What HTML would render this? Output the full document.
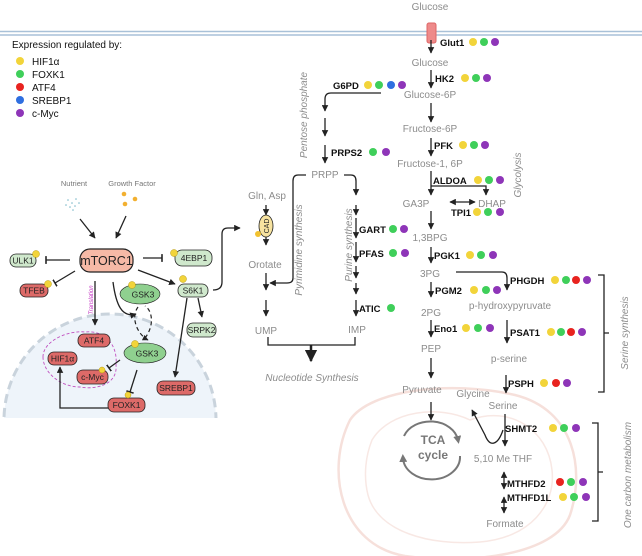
<!DOCTYPE html>
<html><head><meta charset="utf-8"><style>
html,body{margin:0;padding:0;background:#fff}
svg{display:block}
text{font-family:"Liberation Sans",sans-serif}
.m{fill:#8c8c8c;font-size:10px;text-anchor:middle}
.e{fill:#111;font-size:9.5px;font-weight:bold}
.l{fill:#111;font-size:10px}
.v{fill:#8c8c8c;font-size:10px;font-style:italic}
.a{stroke:#222;stroke-width:1.3;fill:none;marker-end:url(#ar)}
.n{stroke:#222;stroke-width:1.3;fill:none}
.bx{font-size:8.5px;text-anchor:middle;fill:#222}
</style></head><body>
<svg width="642" height="556" viewBox="0 0 642 556" xmlns="http://www.w3.org/2000/svg">
<defs>
<marker id="ar" viewBox="0 0 10 10" refX="9" refY="5" markerWidth="5" markerHeight="5" orient="auto"><path d="M0,0L10,5L0,10z" fill="#222"/></marker>
<marker id="ar2" viewBox="0 0 10 10" refX="1" refY="5" markerWidth="5" markerHeight="5" orient="auto"><path d="M10,0L0,5L10,10z" fill="#222"/></marker>
<marker id="tb" viewBox="0 0 10 10" refX="5" refY="5" markerWidth="6" markerHeight="6" orient="auto"><path d="M5,0L5,10" stroke="#222" stroke-width="2"/></marker>
<marker id="ga" viewBox="0 0 10 10" refX="5" refY="5" markerWidth="4" markerHeight="4" orient="auto"><path d="M0,0L10,5L0,10z" fill="#777"/></marker>
<clipPath id="nc"><rect x="0" y="300" width="260" height="118"/></clipPath>
</defs>
<!-- membrane -->
<line x1="0" y1="31.5" x2="642" y2="31.5" stroke="#a9c1d8" stroke-width="1.5"/>
<line x1="0" y1="35" x2="642" y2="35" stroke="#a9c1d8" stroke-width="1.5"/>
<rect x="427" y="23" width="9" height="20" rx="2" fill="#ee8a8a" stroke="#d66"/>
<!-- mitochondrion -->
<path d="M350,420 C370,390 450,380 515,395 C575,410 585,470 570,515 C555,555 470,565 405,556 C340,545 325,470 350,420 Z" fill="none" stroke="#f6e0db" stroke-width="2.5"/>
<path d="M372,440 C390,410 440,405 470,420 C510,405 548,430 552,470 C556,505 530,538 480,542 C430,546 378,532 368,495 C363,475 366,455 372,440Z" fill="none" stroke="#f8e8e4" stroke-width="1.5"/>
<!-- legend -->
<text x="12" y="48" class="l">Expression regulated by:</text>
<circle cx="20" cy="61" r="4" fill="#f2d43a"/><text x="32" y="65" class="l">HIF1α</text>
<circle cx="20" cy="74" r="4" fill="#3fcf5a"/><text x="32" y="78" class="l">FOXK1</text>
<circle cx="20" cy="87" r="4" fill="#e8231f"/><text x="32" y="91" class="l">ATF4</text>
<circle cx="20" cy="100" r="4" fill="#2f6fe0"/><text x="32" y="104" class="l">SREBP1</text>
<circle cx="20" cy="113" r="4" fill="#8e35b8"/><text x="32" y="117" class="l">c-Myc</text>

<!-- glycolysis -->
<text x="430" y="10" class="m">Glucose</text>
<path d="M431,40V53" class="a"/>
<text x="440" y="46" class="e">Glut1</text>
<circle cx="473" cy="42" r="4" fill="#f2d43a"/><circle cx="484" cy="42" r="4" fill="#3fcf5a"/><circle cx="495" cy="42" r="4" fill="#8e35b8"/>
<text x="430" y="66" class="m">Glucose</text>
<path d="M431,70V88" class="a"/>
<text x="435" y="82" class="e">HK2</text>
<circle cx="465" cy="78" r="4" fill="#f2d43a"/><circle cx="476" cy="78" r="4" fill="#3fcf5a"/><circle cx="487" cy="78" r="4" fill="#8e35b8"/>
<text x="430" y="98" class="m">Glucose-6P</text>
<path d="M431,103V122" class="a"/>
<text x="430" y="132" class="m">Fructose-6P</text>
<path d="M431,138V156" class="a"/>
<text x="434" y="149" class="e">PFK</text>
<circle cx="463" cy="145" r="4" fill="#f2d43a"/><circle cx="474" cy="145" r="4" fill="#3fcf5a"/><circle cx="485" cy="145" r="4" fill="#8e35b8"/>
<text x="430" y="167" class="m">Fructose-1, 6P</text>
<path d="M431,171V195" class="a"/>
<path d="M431,186H486V195" class="a"/>
<text x="433" y="184" class="e">ALDOA</text>
<circle cx="478" cy="180" r="4" fill="#f2d43a"/><circle cx="489" cy="180" r="4" fill="#3fcf5a"/><circle cx="500" cy="180" r="4" fill="#8e35b8"/>
<text x="416" y="207" class="m">GA3P</text>
<path d="M450,202H475" class="n" marker-end="url(#ar)" marker-start="url(#ar2)"/>
<text x="492" y="207" class="m">DHAP</text>
<text x="451" y="216" class="e">TPI1</text>
<circle cx="477" cy="212" r="4" fill="#f2d43a"/><circle cx="488" cy="212" r="4" fill="#3fcf5a"/><circle cx="500" cy="212" r="4" fill="#8e35b8"/>
<text transform="translate(521,175) rotate(-90)" class="v" text-anchor="middle">Glycolysis</text>
<path d="M431,211V229" class="a"/>
<text x="430" y="241" class="m">1,3BPG</text>
<path d="M431,247V263" class="a"/>
<text x="434" y="259" class="e">PGK1</text>
<circle cx="470" cy="255" r="4" fill="#f2d43a"/><circle cx="481" cy="255" r="4" fill="#3fcf5a"/><circle cx="493" cy="255" r="4" fill="#8e35b8"/>
<text x="430" y="277" class="m">3PG</text>
<path d="M456,272H502Q507,272 507,278V290" class="a"/>
<text x="510" y="284" class="e">PHGDH</text>
<circle cx="555" cy="280" r="4" fill="#f2d43a"/><circle cx="566" cy="280" r="4" fill="#3fcf5a"/><circle cx="576" cy="280" r="4" fill="#e8231f"/><circle cx="587" cy="280" r="4" fill="#8e35b8"/>
<path d="M431,282V297" class="a"/>
<text x="435" y="294" class="e">PGM2</text>
<circle cx="474" cy="290" r="4" fill="#f2d43a"/><circle cx="486" cy="290" r="4" fill="#3fcf5a"/><circle cx="497" cy="290" r="4" fill="#8e35b8"/>
<text x="510" y="309" class="m">p-hydroxypyruvate</text>
<text x="431" y="316" class="m">2PG</text>
<path d="M431,320V337" class="a"/>
<text x="434" y="332" class="e">Eno1</text>
<circle cx="466" cy="328" r="4" fill="#f2d43a"/><circle cx="478" cy="328" r="4" fill="#3fcf5a"/><circle cx="490" cy="328" r="4" fill="#8e35b8"/>
<path d="M507,320V343" class="a"/>
<text x="510" y="336" class="e">PSAT1</text>
<circle cx="551" cy="332" r="4" fill="#f2d43a"/><circle cx="561" cy="332" r="4" fill="#3fcf5a"/><circle cx="571" cy="332" r="4" fill="#e8231f"/><circle cx="582" cy="332" r="4" fill="#8e35b8"/>
<text x="431" y="352" class="m">PEP</text>
<path d="M431,358V378" class="a"/>
<text x="509" y="362" class="m">p-serine</text>
<path d="M506,375V393" class="a"/>
<text x="508" y="387" class="e">PSPH</text>
<circle cx="544" cy="383" r="4" fill="#f2d43a"/><circle cx="556" cy="383" r="4" fill="#e8231f"/><circle cx="567" cy="383" r="4" fill="#8e35b8"/>
<path d="M598,275H604V392H598M604,333H609" class="n"/>
<text transform="translate(628,333) rotate(-90)" class="v" text-anchor="middle">Serine  synthesis</text>
<text x="422" y="393" class="m">Pyruvate</text>
<text x="473" y="397" class="m">Glycine</text>
<text x="503" y="409" class="m">Serine</text>
<path d="M431,402V420" class="a"/>
<path d="M505,414V446" class="a"/>
<path d="M503,430C498,445 490,448 485,435L472,410" class="a"/>
<text x="505" y="432" class="e">SHMT2</text>
<circle cx="553" cy="428" r="4" fill="#f2d43a"/><circle cx="564" cy="428" r="4" fill="#3fcf5a"/><circle cx="576" cy="428" r="4" fill="#8e35b8"/>
<path d="M404,436A28,22 0 0 1 458,440" fill="none" stroke="#777" stroke-width="2" marker-end="url(#ga)"/>
<path d="M460,456A28,22 0 0 1 403,458" fill="none" stroke="#777" stroke-width="2" marker-end="url(#ga)"/>
<text x="433" y="444" fill="#777" font-size="12" font-weight="bold" text-anchor="middle">TCA</text>
<text x="433" y="459" fill="#777" font-size="12" font-weight="bold" text-anchor="middle">cycle</text>
<text x="503" y="462" class="m">5,10 Me THF</text>
<path d="M504,472V489" class="n" marker-end="url(#ar)" marker-start="url(#ar2)"/>
<text x="507" y="487" class="e">MTHFD2</text>
<circle cx="560" cy="482" r="4" fill="#e8231f"/><circle cx="571" cy="482" r="4" fill="#3fcf5a"/><circle cx="583" cy="482" r="4" fill="#8e35b8"/>
<path d="M504,497V513" class="n" marker-end="url(#ar)" marker-start="url(#ar2)"/>
<text x="507" y="501" class="e">MTHFD1L</text>
<circle cx="563" cy="497" r="4" fill="#f2d43a"/><circle cx="574" cy="497" r="4" fill="#3fcf5a"/><circle cx="586" cy="497" r="4" fill="#8e35b8"/>
<text x="505" y="527" class="m">Formate</text>
<path d="M592,423H598V521H592M598,472H603" class="n"/>
<text transform="translate(631,475) rotate(-90)" class="v" text-anchor="middle">One carbon metabolism</text>

<!-- pentose -->
<text x="333" y="89" class="e">G6PD</text>
<circle cx="368" cy="85" r="4" fill="#f2d43a"/><circle cx="379" cy="85" r="4" fill="#3fcf5a"/><circle cx="391" cy="85" r="4" fill="#2f6fe0"/><circle cx="402" cy="85" r="4" fill="#8e35b8"/>
<path d="M381,93H331Q325,93 325,99V111" class="a"/>
<path d="M325,118V136" class="a"/>
<path d="M325,145V163" class="a"/>
<text x="331" y="156" class="e">PRPS2</text>
<circle cx="373" cy="152" r="4" fill="#3fcf5a"/><circle cx="386" cy="152" r="4" fill="#8e35b8"/>
<text transform="translate(307,115) rotate(-90)" class="v" text-anchor="middle">Pentose phosphate</text>
<text x="325" y="178" class="m">PRPP</text>
<path d="M306,175H298Q293,175 293,181V278Q293,283 287,283H270" class="a"/>
<path d="M344,175H351Q356,175 356,181V195" class="a"/>
<text x="267" y="199" class="m">Gln, Asp</text>
<path d="M266,205V215" class="a"/>
<path d="M266,220V230" class="a"/>
<path d="M266,235V245" class="a"/>
<ellipse cx="266" cy="226" rx="7" ry="11" fill="#f7e3a0" stroke="#222" stroke-width="0.8"/>
<text transform="translate(269,226) rotate(-90)" font-size="7" text-anchor="middle" fill="#222">CAD</text>
<circle cx="258" cy="234" r="3" fill="#f2c230"/>
<text x="265" y="268" class="m">Orotate</text>
<path d="M266,273V290" class="a"/>
<path d="M266,300V316" class="a"/>
<text x="266" y="334" class="m">UMP</text>
<text transform="translate(302,250) rotate(-90)" class="v" text-anchor="middle" font-size="11">Pyrimidine synthesis</text>
<path d="M356,205V215" class="a"/>
<path d="M356,218V238" class="a"/>
<text x="359" y="233" class="e">GART</text>
<circle cx="393" cy="229" r="4" fill="#3fcf5a"/><circle cx="404" cy="229" r="4" fill="#8e35b8"/>
<path d="M356,242V262" class="a"/>
<text x="359" y="257" class="e">PFAS</text>
<circle cx="393" cy="253" r="4" fill="#3fcf5a"/><circle cx="405" cy="253" r="4" fill="#8e35b8"/>
<path d="M356,266V278" class="a"/>
<path d="M356,283V294" class="a"/>
<path d="M356,300V316" class="a"/>
<text x="359" y="312" class="e">ATIC</text>
<circle cx="391" cy="308" r="4" fill="#3fcf5a"/>
<text x="357" y="333" class="m">IMP</text>
<text transform="translate(352,245) rotate(-90)" class="v" text-anchor="middle" font-size="11">Purine synthesis</text>
<path d="M268,337V345H355V337" class="n"/>
<path d="M311,345V361" stroke="#222" stroke-width="2.5" marker-end="url(#ar)"/>
<text x="312" y="381" class="v" text-anchor="middle">Nucleotide Synthesis</text>

<!-- nucleus -->
<g clip-path="url(#nc)">
<circle cx="110" cy="420" r="106" fill="#eef4fa" stroke="#c9d3dc" stroke-width="3" stroke-dasharray="9,5"/>
</g>
<!-- mTOR area -->
<text x="74" y="186" fill="#777" font-size="7.5" text-anchor="middle">Nutrient</text>
<text x="132" y="186" fill="#777" font-size="7.5" text-anchor="middle">Growth Factor</text>
<g fill="#7ab8c8"><circle cx="68" cy="200" r=".8"/><circle cx="72" cy="203" r=".8"/><circle cx="76" cy="199" r=".8"/><circle cx="70" cy="207" r=".8"/><circle cx="75" cy="206" r=".8"/><circle cx="79" cy="203" r=".8"/><circle cx="73" cy="210" r=".8"/><circle cx="66" cy="205" r=".8"/></g>
<circle cx="124" cy="194" r="2.3" fill="#f2b030"/><circle cx="135" cy="199" r="2.3" fill="#f2b030"/><circle cx="125" cy="204" r="2.3" fill="#f2b030"/>
<path d="M80,219L95,238" class="a"/>
<path d="M126,216L116,238" class="a"/>
<rect x="80" y="249" width="53" height="23" rx="10" fill="#f6b9a6" stroke="#222" stroke-width="1.2"/>
<text x="106.5" y="265" font-size="12.5" text-anchor="middle" fill="#222">mTORC1</text>
<path d="M70,260H46" class="n" marker-end="url(#tb)"/>
<rect x="10" y="254" width="26" height="13" rx="6" fill="#cfe8cc" stroke="#222" stroke-width=".8"/><text x="23" y="263.5" class="bx">ULK1</text>
<circle cx="36" cy="254" r="3.5" fill="#f2d43a" stroke="#b89a10" stroke-width=".5"/>
<path d="M75,271L55,283" class="n" marker-end="url(#tb)"/>
<rect x="20" y="284" width="28" height="13" rx="6" fill="#dd6a68" stroke="#222" stroke-width=".8"/><text x="34" y="293.5" class="bx">TFEB</text>
<circle cx="48" cy="284" r="3.5" fill="#f2d43a" stroke="#b89a10" stroke-width=".5"/>
<path d="M143,258H162" class="n" marker-end="url(#tb)"/>
<rect x="175" y="250" width="37" height="16" rx="7" fill="#cfe8cc" stroke="#222" stroke-width=".8"/><text x="194" y="261" class="bx">4EBP1</text>
<circle cx="174" cy="253" r="3.5" fill="#f2d43a" stroke="#b89a10" stroke-width=".5"/>
<path d="M138,270L175,284" class="a"/>
<rect x="178" y="284" width="30" height="13" rx="6" fill="#cfe8cc" stroke="#222" stroke-width=".8"/><text x="193" y="293.5" class="bx">S6K1</text>
<circle cx="183" cy="279" r="3.5" fill="#f2d43a" stroke="#b89a10" stroke-width=".5"/>
<path d="M213,290Q222,290 222,282V234Q222,228 228,228H240" class="a"/>
<ellipse cx="140" cy="294" rx="20" ry="10" fill="#8fd08f" stroke="#222" stroke-width=".6"/><text x="143" y="297.5" class="bx">GSK3</text>
<circle cx="132" cy="285" r="3.5" fill="#f2d43a" stroke="#b89a10" stroke-width=".5"/>
<path d="M95,281V325" class="a"/>
<text transform="translate(93,300) rotate(-90)" fill="#c030c0" font-size="6" font-style="italic" text-anchor="middle">Translation</text>
<path d="M113,282C116,305 122,318 136,314" class="a"/>
<path d="M138,307C130,318 138,335 148,340" fill="none" stroke="#222" stroke-width="1.2" stroke-dasharray="4,3" marker-end="url(#ar)"/>
<path d="M145,338C155,325 152,310 145,306" fill="none" stroke="#222" stroke-width="1.2" stroke-dasharray="4,3"/>
<path d="M198,298L202,317" class="a"/>
<rect x="187" y="323" width="29" height="14" rx="6" fill="#cfe8cc" stroke="#222" stroke-width=".8"/><text x="201.5" y="333" class="bx">SRPK2</text>
<path d="M187,298L175,377" class="a"/>
<rect x="157" y="381" width="38" height="14" rx="6" fill="#dd6a68" stroke="#222" stroke-width=".8"/><text x="176" y="391" class="bx">SREBP1</text>
<path d="M43,357C43,340 70,330 85,332C105,330 118,345 116,365C118,385 95,390 80,387C60,387 43,372 43,357Z" fill="none" stroke="#c050c0" stroke-width=".9" stroke-dasharray="3,2"/>
<rect x="78" y="334" width="32" height="13" rx="6" fill="#dd6a68" stroke="#222" stroke-width=".8"/><text x="94" y="343.5" class="bx">ATF4</text>
<rect x="48" y="352" width="29" height="13" rx="6" fill="#dd6a68" stroke="#222" stroke-width=".8"/><text x="62.5" y="361.5" class="bx">HIF1α</text>
<rect x="77" y="370" width="31" height="14" rx="6" fill="#dd6a68" stroke="#222" stroke-width=".8"/><text x="92.5" y="380" class="bx">c-Myc</text>
<circle cx="102" cy="370" r="3" fill="#f2d43a" stroke="#b89a10" stroke-width=".5"/>
<ellipse cx="145" cy="353" rx="21" ry="10" fill="#8fd08f" stroke="#222" stroke-width=".6"/><text x="147" y="356.5" class="bx">GSK3</text>
<circle cx="135" cy="344" r="3.5" fill="#f2d43a" stroke="#b89a10" stroke-width=".5"/>
<path d="M120,360L109,368" class="n" marker-end="url(#tb)"/>
<path d="M137,370L130,392" class="n" marker-end="url(#tb)"/>
<rect x="108" y="398" width="37" height="14" rx="6" fill="#dd6a68" stroke="#222" stroke-width=".8"/><text x="126.5" y="408" class="bx">FOXK1</text>
<circle cx="128" cy="395" r="3" fill="#f2d43a" stroke="#b89a10" stroke-width=".5"/>
<path d="M108,408H60V367" class="a"/>
</svg>
</body></html>
